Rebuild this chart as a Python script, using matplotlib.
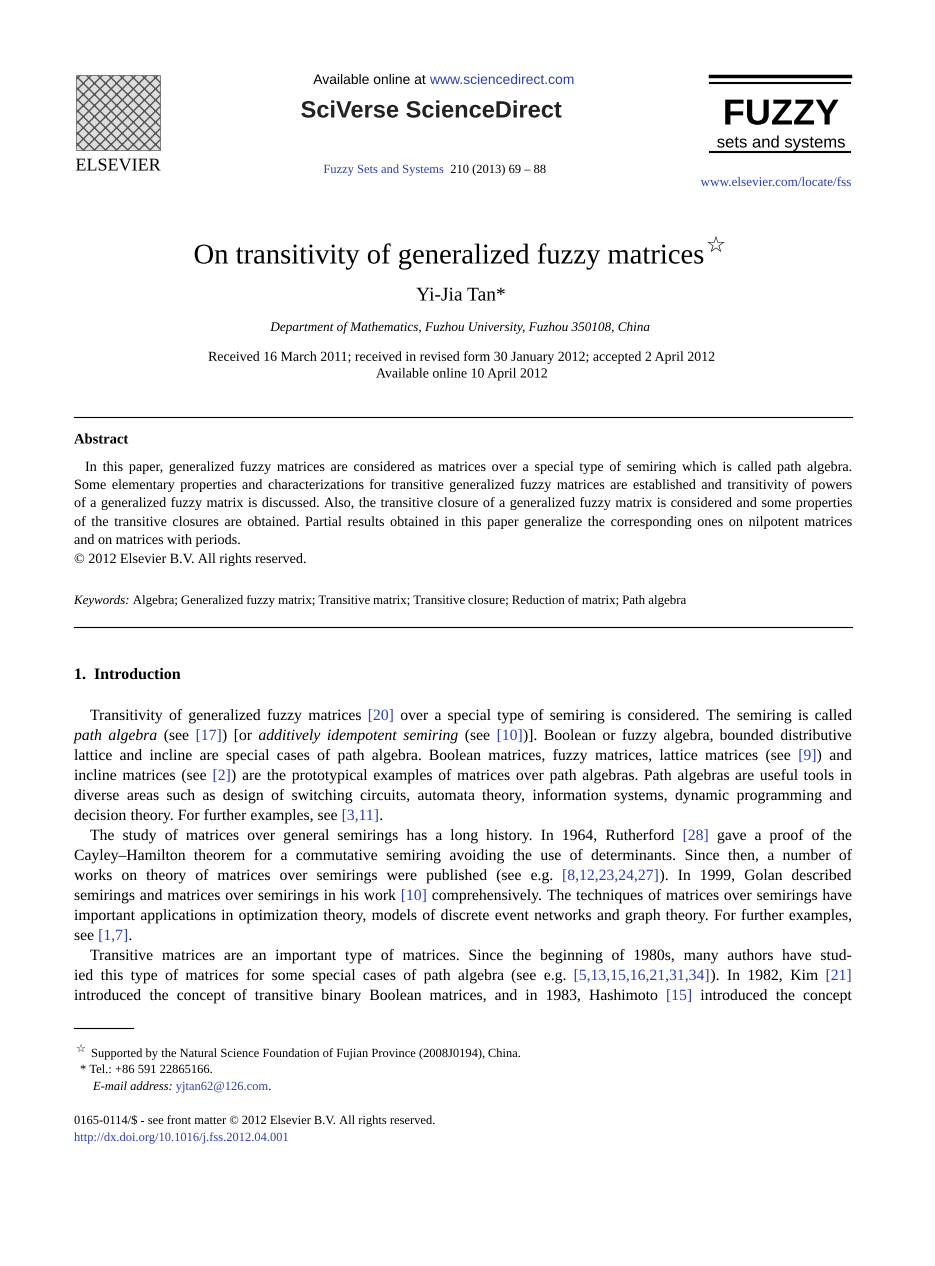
import re
import matplotlib
matplotlib.use("Agg")
import matplotlib.pyplot as plt
import matplotlib.patheffects as pe
from matplotlib.patches import Rectangle

W, H = 935, 1266
BLUE = "#2b3fb0"
SERIF = ["Liberation Serif", "DejaVu Serif"]
SANS = ["Liberation Sans", "DejaVu Sans"]
PE = [pe.Normal()]

fig = plt.figure(figsize=(W / 100, H / 100), dpi=100)
fig.patch.set_facecolor("white")
R = fig.canvas.get_renderer()

def fx(x): return x / W
def fy(y): return 1 - y / H

def T(x, y, s, **kw):
    return fig.text(fx(x), fy(y), s, path_effects=PE, **kw)

def style_kw(s):
    kw = dict(color="black", style="normal", weight="normal")
    if "b" in s: kw["color"] = BLUE
    if "i" in s: kw["style"] = "italic"
    if "B" in s: kw["weight"] = "bold"
    return kw

def parse(markup):
    toks = []
    pos = 0
    segs = []
    for m in re.finditer(r"\{(\w+):([^}]*)\}", markup):
        if m.start() > pos: segs.append(("n", markup[pos:m.start()]))
        segs.append((m.group(1), m.group(2)))
        pos = m.end()
    if pos < len(markup): segs.append(("n", markup[pos:]))
    space_pending = False
    for st, txt in segs:
        parts = re.split(r"( +)", txt)
        for p in parts:
            if p == "": continue
            if p.strip() == "":
                space_pending = True
                continue
            toks.append((p, st, space_pending if toks else False))
            space_pending = False
    return toks

def width(t):
    return t.get_window_extent(renderer=R).width

def line(x0, x1, y, markup, size, justify=True, family=SERIF):
    toks = parse(markup)
    objs = []
    for w, st, sp in toks:
        t = fig.text(0, fy(y), w, fontsize=size, family=family, va="baseline",
                     path_effects=PE, **style_kw(st))
        objs.append((t, sp))
    ws = [width(t) for t, _ in objs]
    probe = fig.text(0, 0, "a a", fontsize=size, family=family)
    probe2 = fig.text(0, 0, "aa", fontsize=size, family=family)
    spw = width(probe) - width(probe2)
    probe.remove(); probe2.remove()
    nsp = sum(1 for _, sp in objs if sp)
    if justify and nsp:
        gap = (x1 - x0 - sum(ws)) / nsp
    else:
        gap = spw
    x = x0
    for (t, sp), w in zip(objs, ws):
        if sp: x += gap
        t.set_x(fx(x))
        x += w

def hr(x0, x1, y, lw=1.0):
    fig.add_artist(plt.Line2D([fx(x0), fx(x1)], [fy(y), fy(y)], color="black", lw=lw))

# ---- header ----
T(430, 80, "Available online at ", fontsize=10, family=SANS, ha="right", va="center")
T(430, 80, "www.sciencedirect.com", fontsize=10, family=SANS, ha="left", va="center", color=BLUE)
T(431, 111, "SciVerse ScienceDirect", fontsize=17, family=SANS, weight="bold", ha="center", va="center", color="#222222")
T(444, 170, "Fuzzy Sets and Systems", fontsize=9, family=SERIF, ha="right", va="center", color=BLUE)
T(444, 170, "  210 (2013) 69 – 88", fontsize=9, family=SERIF, ha="left", va="center")

fig.add_artist(Rectangle((fx(76), fy(150)), fx(84), 75 / H, facecolor="#dddddd", edgecolor="#555555", hatch="xxx", lw=0.5))
T(118, 166, "ELSEVIER", fontsize=13, family=SERIF, ha="center", va="center")

hr(710, 850, 76, 2.5)
hr(710, 850, 83, 1.5)
T(781, 115, "FUZZY", fontsize=26, family=SANS, weight="bold", ha="center", va="center")
T(781, 143, "sets and systems", fontsize=12, family=SANS, ha="center", va="center")
hr(710, 850, 152, 1.5)
T(852, 183, "www.elsevier.com/locate/fss", fontsize=9.5, family=SERIF, ha="right", va="center", color=BLUE)

# ---- title ----
T(449, 256, "On transitivity of generalized fuzzy matrices", fontsize=20.6, family=SERIF, ha="center", va="center")
T(706, 246, "☆", fontsize=16, family=["DejaVu Sans"], ha="left", va="center")
T(461, 296, "Yi-Jia Tan*", fontsize=14, family=SERIF, ha="center", va="center")
T(461, 328, "Department of Mathematics, Fuzhou University, Fuzhou 350108, China", fontsize=9.5, family=SERIF, style="italic", ha="center", va="center")
T(462, 357, "Received 16 March 2011; received in revised form 30 January 2012; accepted 2 April 2012", fontsize=10, family=SERIF, ha="center", va="center")
T(462, 374, "Available online 10 April 2012", fontsize=10, family=SERIF, ha="center", va="center")

hr(74, 852, 417, 0.8)
T(74, 440, "Abstract", fontsize=10.5, family=SERIF, weight="bold", ha="left", va="center")

abstract = [
    (85, 467, "In this paper, generalized fuzzy matrices are considered as matrices over a special type of semiring which is called path algebra.", True),
    (74, 485, "Some elementary properties and characterizations for transitive generalized fuzzy matrices are established and transitivity of powers", True),
    (74, 503, "of a generalized fuzzy matrix is discussed. Also, the transitive closure of a generalized fuzzy matrix is considered and some properties", True),
    (74, 522, "of the transitive closures are obtained. Partial results obtained in this paper generalize the corresponding ones on nilpotent matrices", True),
    (74, 540, "and on matrices with periods.", False),
    (74, 559, "© 2012 Elsevier B.V. All rights reserved.", False),
]
for x0, y, t, j in abstract:
    line(x0, 852, y + 4, t, 10.2, j)

line(74, 852, 604, "{i:Keywords:} Algebra; Generalized fuzzy matrix; Transitive matrix; Transitive closure; Reduction of matrix; Path algebra", 9.3, False)
hr(74, 852, 627, 0.8)

T(74, 675, "1.  Introduction", fontsize=11.5, family=SERIF, weight="bold", ha="left", va="center")

body = [
    (90, 715, "Transitivity of generalized fuzzy matrices {b:[20]} over a special type of semiring is considered. The semiring is called", True),
    (74, 735, "{i:path algebra} (see {b:[17]}) [or {i:additively idempotent semiring} (see {b:[10]})]. Boolean or fuzzy algebra, bounded distributive", True),
    (74, 755, "lattice and incline are special cases of path algebra. Boolean matrices, fuzzy matrices, lattice matrices (see {b:[9]}) and", True),
    (74, 775, "incline matrices (see {b:[2]}) are the prototypical examples of matrices over path algebras. Path algebras are useful tools in", True),
    (74, 795, "diverse areas such as design of switching circuits, automata theory, information systems, dynamic programming and", True),
    (74, 815, "decision theory. For further examples, see {b:[3,11]}.", False),
    (90, 835, "The study of matrices over general semirings has a long history. In 1964, Rutherford {b:[28]} gave a proof of the", True),
    (74, 855, "Cayley–Hamilton theorem for a commutative semiring avoiding the use of determinants. Since then, a number of", True),
    (74, 875, "works on theory of matrices over semirings were published (see e.g. {b:[8,12,23,24,27]}). In 1999, Golan described", True),
    (74, 895, "semirings and matrices over semirings in his work {b:[10]} comprehensively. The techniques of matrices over semirings have", True),
    (74, 915, "important applications in optimization theory, models of discrete event networks and graph theory. For further examples,", True),
    (74, 935, "see {b:[1,7]}.", False),
    (90, 955, "Transitive matrices are an important type of matrices. Since the beginning of 1980s, many authors have stud-", True),
    (74, 975, "ied this type of matrices for some special cases of path algebra (see e.g. {b:[5,13,15,16,21,31,34]}). In 1982, Kim {b:[21]}", True),
    (74, 995, "introduced the concept of transitive binary Boolean matrices, and in 1983, Hashimoto {b:[15]} introduced the concept", True),
]
for x0, y, t, j in body:
    line(x0, 852, y + 5, t, 11.3, j)

hr(74, 133, 1028, 0.8)
T(76, 1049, "☆", fontsize=8, family=["DejaVu Sans"], ha="left", va="center")
line(91, 852, 1057, "Supported by the Natural Science Foundation of Fujian Province (2008J0194), China.", 9, False)
line(80, 852, 1073, "*  Tel.: +86 591 22865166.", 9, False)
line(93, 852, 1090, "{i:E-mail address:} {b:yjtan62@126.com}.", 9, False)
line(74, 852, 1124, "0165-0114/\\$ - see front matter © 2012 Elsevier B.V. All rights reserved.", 9, False)
line(74, 852, 1141, "{b:http://dx.doi.org/10.1016/j.fss.2012.04.001}", 9, False)

fig.savefig("out.png", dpi=100, facecolor="white")
